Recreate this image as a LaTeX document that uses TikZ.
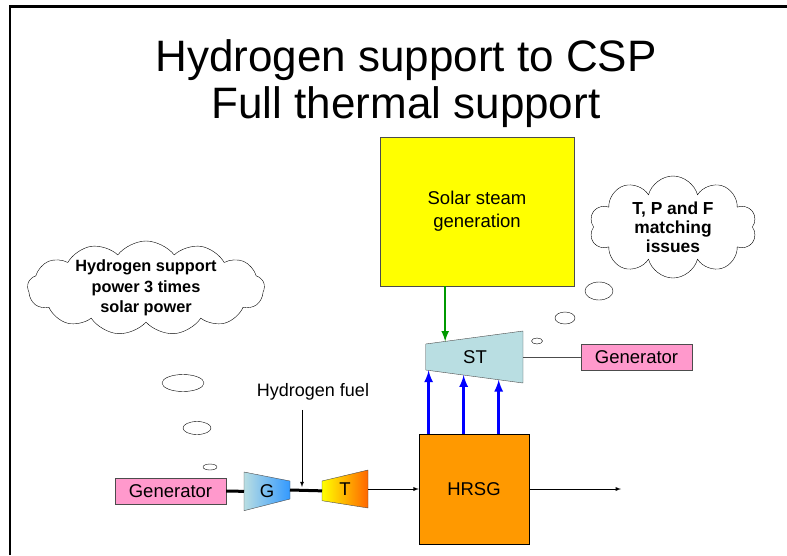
\documentclass[tikz,border=0pt]{standalone}
\usepackage{fontspec}
\setmainfont{Liberation Sans}
\usetikzlibrary{calc, shapes.symbols}
\definecolor{solaryellow}{RGB}{255,255,0}
\definecolor{stblue}{RGB}{185,222,226}
\definecolor{genpink}{RGB}{255,153,204}
\definecolor{hrsgorange}{RGB}{255,153,0}
\definecolor{gblue}{RGB}{51,153,255}
\definecolor{tred}{RGB}{255,102,0}
\definecolor{steamgreen}{RGB}{0,153,0}

\begin{document}
\begin{tikzpicture}[x=1pt, y=-1pt,
    box/.style={draw=black!70, inner sep=0pt, align=center, font=\fontsize{18.5}{23}\selectfont},
    bubble/.style={draw, cloud, cloud puffs=10, cloud ignores aspect, inner sep=0pt, align=center},
    shaft/.style={line width=3pt},
    flow/.style={-latex, line width=0.9pt},
    heat/.style={-latex, line width=3pt, blue}]
    \useasboundingbox (0,0) rectangle (787,555);
    \draw[line width=2.5pt] (10,555) -- (10,6.5) -- (787,6.5); % slide frame

    \node[font=\fontsize{44}{47}\selectfont, align=center] (title) at (406,84) {Hydrogen support to CSP\\Full thermal support};

    % boxes
    \node[box, fill=solaryellow, minimum width=194pt, minimum height=149pt] (solar) at (477,211.5) {Solar steam\\ generation};
    \node[box, fill=hrsgorange, draw=black, minimum width=110pt, minimum height=110pt] (hrsg) at (474,489) {HRSG};
    \node[box, fill=genpink, minimum width=111pt, minimum height=26pt] (gen1) at (170.5,491) {Generator};
    \node[box, fill=genpink, minimum width=111pt, minimum height=26pt] (gen2) at (636.5,357) {Generator};

    % steam turbine
    \coordinate (st-nw) at (425.7,344);
    \coordinate (st-ne) at (523,331);
    \coordinate (st-se) at (523,383);
    \coordinate (st-sw) at (425.7,370);
    \filldraw[fill=stblue, draw=black!70] (st-nw) -- (st-ne) -- (st-se) -- (st-sw) -- cycle;
    \node[font=\fontsize{18.5}{23}\selectfont] (st) at (475,357) {ST};

    % gas turbine: compressor G and turbine T
    \coordinate (g-nw) at (244,472);
    \coordinate (g-ne) at (290,481);
    \coordinate (g-se) at (290,499);
    \coordinate (g-sw) at (244,510.7);
    \path[draw=black!70, left color=stblue, right color=gblue] (g-nw) -- (g-ne) -- (g-se) -- (g-sw) -- cycle;
    \node[font=\fontsize{18.5}{23}\selectfont] (g) at (267,491) {G};
    \coordinate (t-nw) at (322,481);
    \coordinate (t-ne) at (368,470);
    \coordinate (t-se) at (368,508);
    \coordinate (t-sw) at (322,500.7);
    \path[draw=black!70, left color=solaryellow, right color=tred] (t-nw) -- (t-ne) -- (t-se) -- (t-sw) -- cycle;
    \node[font=\fontsize{18.5}{23}\selectfont] (t) at (345,489) {T};

    % connectors
    \draw[shaft] (gen1.east) -- ($(g-nw)!0.5!(g-sw)$);
    \draw[shaft] ($(g-ne)!0.5!(g-se)$) -- ($(t-nw)!0.5!(t-sw)$);
    \draw[flow] ($(t-ne)!0.5!(t-se)$) -- (hrsg.west);
    \coordinate (exhaust) at (621,489);
    \draw[flow] (hrsg.east) -- (exhaust);
    \node[font=\fontsize{18}{22}\selectfont] (fuel) at (313,392) {Hydrogen fuel};
    \coordinate (inj) at (302,487);
    \draw[-latex, line width=0.8pt] (inj |- fuel.south) ++(0,6) -- (inj);
    \coordinate (st-in) at ($(st-nw)!0.2!(st-ne)$);
    \draw[-latex, line width=2.5pt, steamgreen] (solar.south -| st-in) -- (st-in);
    \foreach \t in {0.03,0.39,0.75} {
        \coordinate (st-heat) at ($(st-sw)!\t!(st-se)$);
        \draw[heat] (hrsg.north -| st-heat) -- (st-heat);
    }
    \draw[black!70, line width=0.9pt] ($(st-ne)!0.5!(st-se)$) -- (gen2.west);

    % thought bubbles
    \node[bubble, cloud puffs=13, cloud puff arc=105, inner ysep=-5pt, minimum width=237pt, minimum height=94pt, font=\fontsize{16.3}{20.5}\selectfont\bfseries] (note1) at (146,288) {Hydrogen support\\power 3 times\\solar power};
    \node[bubble, minimum width=167pt, minimum height=102pt, font=\fontsize{17.4}{18.8}\selectfont\bfseries] (note2) at (673,227) {T, P and F\\matching\\issues};
    \draw (183,383) ellipse [x radius=21pt, y radius=8.5pt];
    \draw (197,428) ellipse [x radius=14pt, y radius=6.5pt];
    \draw (210,467) ellipse [x radius=7pt, y radius=3pt];
    \draw (599,291) ellipse [x radius=14pt, y radius=9pt];
    \draw (565,318) ellipse [x radius=10pt, y radius=6pt];
    \draw (537,341) ellipse [x radius=5.5pt, y radius=3pt];
\end{tikzpicture}
\end{document}
